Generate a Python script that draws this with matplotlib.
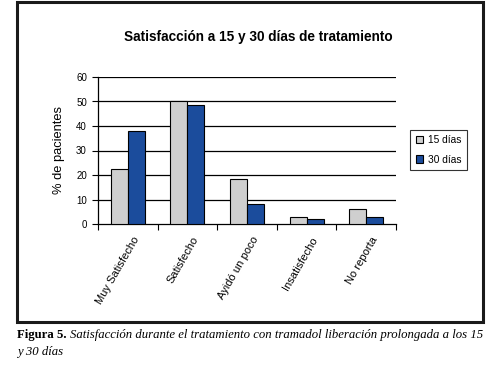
import matplotlib.pyplot as plt
import matplotlib.patches as mpatches
import numpy as np

categorias = ["Muy Satisfecho", "Satisfecho", "Ayidó un poco", "Insatisfecho", "No reporta"]
dias15 = [22.4, 50.0, 18.4, 2.9, 6.1]
dias30 = [38.0, 48.6, 8.2, 1.9, 2.9]
series = ["15 días", "30 días"]
yticks = [0, 10, 20, 30, 40, 50, 60]

gris = "#cfcfcf"
azul = "#1b4c9c"

plt.rcParams['font.family'] = ['Liberation Sans', 'DejaVu Sans']

fig = plt.figure(figsize=(4.94, 3.65), dpi=100)
ax = fig.add_axes([98/494, 1-224/365, 298/494, 147/365])

x = np.arange(len(categorias))
w = 0.285
ax.bar(x - w/2, dias15, w, color=gris, edgecolor="black", linewidth=0.8, label=series[0], zorder=3)
ax.bar(x + w/2, dias30, w, color=azul, edgecolor="black", linewidth=0.8, label=series[1], zorder=3)

ax.set_xlim(-0.5, len(categorias) - 0.5)
ax.set_ylim(0, 60)
ax.set_yticks(yticks)
ax.tick_params(axis='y', labelsize=7, length=4, width=0.8, pad=4)
for t in yticks[1:]:
    ax.axhline(t, color="black", lw=0.9, zorder=1)

ax.set_xticks(np.arange(len(categorias) + 1) - 0.5)
ax.set_xticklabels([])
ax.tick_params(axis='x', length=4, width=0.8)
for i, c in enumerate(categorias):
    ax.text(i + 0.08, -4.5, c, rotation=60, ha="right", va="top", fontsize=8,
            rotation_mode="anchor", transform=ax.transData)

for s in ["top", "right"]:
    ax.spines[s].set_visible(False)
ax.spines["left"].set_linewidth(0.9)
ax.spines["bottom"].set_linewidth(0.9)

ax.set_ylabel("% de pacientes", fontsize=9.3, labelpad=8)
fig.text(258/494, 1-37/365, "Satisfacción a 15 y 30 días de tratamiento",
         ha="center", va="center", fontsize=9.8, fontweight="bold")

leg = ax.legend(loc="center left", bbox_to_anchor=(405/494, 1-150/365), bbox_transform=fig.transFigure,
                fontsize=7.3, frameon=True, fancybox=False, edgecolor="black",
                handlelength=0.7, handleheight=0.7, handletextpad=0.5, borderpad=0.55, labelspacing=0.9)
leg.get_frame().set_linewidth(0.8)

# marco exterior
marco = mpatches.Rectangle((17/494, 1-322/365), 466/494, 320/365, transform=fig.transFigure,
                           fill=False, edgecolor="#1a1a1a", linewidth=2.2)
fig.add_artist(marco)

fs_cap = 9.2
fig_lbl = fig.text(17/494, 1-335/365, "Figura 5. ", fontfamily=["Liberation Serif"], fontweight="bold",
                   fontsize=fs_cap, va="center", ha="left")
fig.canvas.draw()
bb = fig_lbl.get_window_extent()
fig.text(bb.x1/494, 1-335/365, "Satisfacción durante el tratamiento con tramadol liberación prolongada a los 15",
         fontfamily=["Liberation Serif"], fontstyle="italic", fontsize=fs_cap, va="center", ha="left")
fig.text(17/494, 1-352/365, "y 30 días", fontfamily=["Liberation Serif"], fontstyle="italic",
         fontsize=fs_cap, va="center", ha="left")

fig.savefig("out.png", dpi=100)
